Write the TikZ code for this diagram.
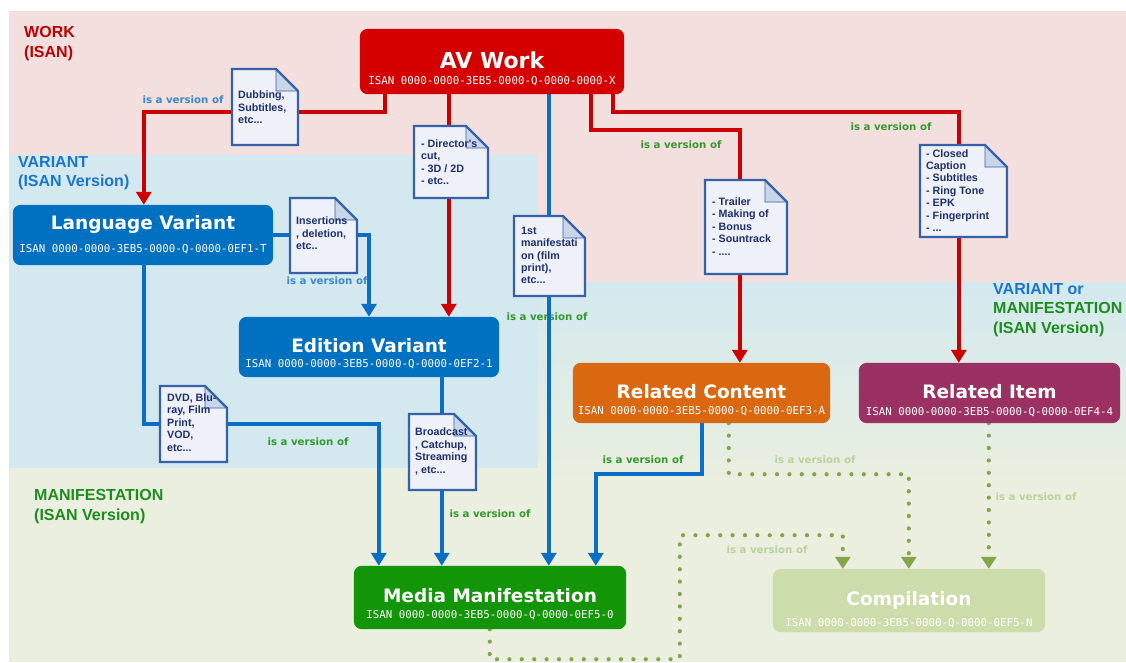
\documentclass[tikz,border=0pt]{standalone}
\usepackage{fontspec}
\usetikzlibrary{arrows.meta,calc}
\newfontfamily\dvs{DejaVu Sans}
\newfontfamily\lsans{Liberation Sans}
\newfontfamily\dvmono{DejaVu Sans Mono}
\definecolor{bgpink}{HTML}{F4DFDF}
\definecolor{bgblue}{HTML}{D3E9EF}
\definecolor{bggreen}{HTML}{EAEFDF}
\definecolor{cred}{HTML}{D40000}
\definecolor{cblue}{HTML}{0070C0}
\definecolor{corange}{HTML}{DA6810}
\definecolor{cpurple}{HTML}{9B3162}
\definecolor{cgreen}{HTML}{129608}
\definecolor{ccomp}{HTML}{CCDCAA}
\definecolor{lred}{HTML}{CC0000}
\definecolor{lblue}{HTML}{0A6EC4}
\definecolor{ldot}{HTML}{86A44A}
\definecolor{docborder}{HTML}{3461A8}
\definecolor{docfill}{HTML}{EEF1F8}
\definecolor{docfold}{HTML}{C9D5E8}
\definecolor{doctxt}{HTML}{1F2F6E}
\definecolor{lbltxtblue}{HTML}{3A88CC}
\definecolor{lbltxtgreen}{HTML}{33992C}
\definecolor{lbltxtlight}{HTML}{BCD29A}
\definecolor{regred}{HTML}{C00000}
\definecolor{regblue}{HTML}{1A76CC}
\definecolor{reggreen}{HTML}{1E8C1E}
\newcommand{\foldsz}{22}
\newcommand{\drawdoc}[5]{%
  \coordinate (#1-nw) at (#2,#3);
  \coordinate (#1-se) at (#4,#5);
  \fill[docfill] (#2,#3) -- ({#4-\foldsz},#3) -- (#4,{#3+\foldsz}) -- (#4,#5) -- (#2,#5) -- cycle;
  \filldraw[fill=docfold, draw=docborder, line width=0.8pt] ({#4-\foldsz},#3) -- ({#4-\foldsz},{#3+\foldsz}) -- (#4,{#3+\foldsz}) -- cycle;
  \draw[docline] (#2,#3) -- ({#4-\foldsz},#3) -- (#4,{#3+\foldsz}) -- (#4,#5) -- (#2,#5) -- cycle;
}
\begin{document}
\begin{tikzpicture}[x=1pt, y=-1pt,
  box/.style={rounded corners=8pt, inner sep=0pt},
  ttl/.style={font=\dvs\bfseries\fontsize{18.5}{20}\selectfont, text=white, inner sep=0pt, text height=13.5pt, text depth=0pt},
  bigttl/.style={font=\dvs\bfseries\fontsize{22}{24}\selectfont, text=white, inner sep=0pt, text height=16pt, text depth=0pt},
  isan/.style={font=\dvmono\fontsize{10.8}{12}\selectfont, text=white, inner sep=0pt, text height=7.9pt, text depth=0pt},
  docline/.style={draw=docborder, line width=2.4pt, line join=miter},
  doctext/.style={font=\lsans\bfseries\fontsize{10.7}{12.4}\selectfont, text=doctxt, align=left, inner sep=0pt, anchor=west},
  reglbl/.style={font=\lsans\bfseries\fontsize{16}{19.5}\selectfont, align=left, inner sep=0pt, anchor=west},
  lbl/.style={font=\dvs\bfseries\fontsize{10.2}{12}\selectfont, inner sep=0pt},
  redarr/.style={draw=lred, line width=3.5pt, -{Triangle[width=15pt,length=13pt]}},
  bluearr/.style={draw=lblue, line width=3.5pt, -{Triangle[width=15pt,length=13pt]}},
  dotarr/.style={draw=ldot, line width=4.2pt, line cap=round, dash pattern=on 0pt off 12.4pt, -{Triangle[width=15pt,length=12pt]}}
]
\useasboundingbox (0,0) rectangle (1126,662);
% backgrounds
\fill[white] (0,0) rectangle (1126,662);
\fill[bggreen] (9,11) rectangle (1126,662);
\fill[bgblue] (9,155) rectangle (538,468);
\shade[top color=bgblue, bottom color=bggreen] (538,282) rectangle (1126,482);
\fill[bgpink] (9,11) rectangle (1126,155);
\fill[bgpink] (538,155) rectangle (1126,282);

% region labels
\node[reglbl, text=regred] (rw) at (24,43.5) {WORK\\(ISAN)};
\node[reglbl, text=regblue] (rv) at (18,173) {VARIANT\\(ISAN Version)};
\node[reglbl, text=reggreen] (rm) at (34,506.5) {MANIFESTATION\\(ISAN Version)};
\node[reglbl] (rvm) at (993,310) {\textcolor{regblue}{VARIANT or}\\\textcolor{reggreen}{MANIFESTATION}\\\textcolor{reggreen}{(ISAN Version)}};

% boxes (named first, drawn later)
\path (492,61.5) node[box, minimum width=264pt, minimum height=65pt] (av) {};
\path (143,235) node[box, minimum width=260pt, minimum height=60pt] (lv) {};
\path (369,347) node[box, minimum width=260pt, minimum height=60pt] (ev) {};
\path (701.5,393) node[box, minimum width=257pt, minimum height=60pt] (rc) {};
\path (989.5,393) node[box, minimum width=261pt, minimum height=60pt] (ri) {};
\path (490,597.5) node[box, minimum width=272pt, minimum height=63pt] (mm) {};
\path (909,600.5) node[box, minimum width=272pt, minimum height=63pt] (comp) {};

% connector labels
\node[lbl, text=lbltxtblue] (l1) at (183,100) {is a version of};
\node[lbl, text=lbltxtblue] (l2) at (327,281) {is a version of};
\node[lbl, text=lbltxtgreen] (l3) at (681,145) {is a version of};
\node[lbl, text=lbltxtgreen] (l4) at (891,127) {is a version of};
\node[lbl, text=lbltxtgreen] (l5) at (547,317) {is a version of};
\node[lbl, text=lbltxtgreen] (l6) at (308,442) {is a version of};
\node[lbl, text=lbltxtgreen] (l7) at (490,514) {is a version of};
\node[lbl, text=lbltxtgreen] (l8) at (643,460) {is a version of};
\node[lbl, text=lbltxtlight] (l9) at (815,460) {is a version of};
\node[lbl, text=lbltxtlight] (l10) at (1036,497) {is a version of};
\node[lbl, text=lbltxtlight] (l11) at (767,550) {is a version of};

% connectors
\draw[dotarr] ([xshift=136pt]mm.south west) -- ++(0,30) -- ++(190,0) -- ++(0,-124) -| ([xshift=70pt]comp.north west);
\draw[dotarr] ([xshift=156pt]rc.south west) -- ++(0,51) -| ([xshift=136pt]comp.north west);
\draw[dotarr] ([xshift=130pt]ri.south west) -- ([xshift=216pt]comp.north west);

\draw[redarr] ([xshift=25pt]av.south west) -- ++(0,18) -| ([xshift=131pt]lv.north west);
\draw[redarr] ([xshift=89pt]av.south west) -- ([xshift=210pt]ev.north west);
\draw[redarr] ([xshift=231pt]av.south west) -- ++(0,36) -| ([xshift=167pt]rc.north west);
\draw[redarr] ([xshift=253pt]av.south west) -- ++(0,18) -| ([xshift=100pt]ri.north west);

\draw[bluearr] ([xshift=189pt]av.south west) -- ([xshift=195pt]mm.north west);
\draw[bluearr] (lv.east) -| (ev.north);
\draw[bluearr] ([xshift=131pt]lv.south west) -- ++(0,159) -| ([xshift=25pt]mm.north west);
\draw[bluearr] ([xshift=203pt]ev.south west) -- ([xshift=88pt]mm.north west);
\draw[bluearr] ([xshift=129pt]rc.south west) -- ++(0,51) -| ([xshift=242pt]mm.north west);

% documents
\drawdoc{dub}{232}{69}{298}{145}
\node[doctext] (t-dub) at (238,107.5) {Dubbing,\\Subtitles,\\etc...};
\drawdoc{dir}{414}{126}{488}{198}
\node[doctext] (t-dir) at (421,162) {- Director's\\cut,\\- 3D / 2D\\- etc..};
\drawdoc{ins}{290}{198}{357}{273}
\node[doctext] (t-ins) at (296,233.5) {Insertions\\, deletion,\\etc..};
\drawdoc{fst}{514}{216}{585}{296}
\node[doctext] (t-fst) at (521,255.5) {1st\\manifestati\\on (film\\print),\\etc...};
\drawdoc{trl}{705}{180}{787}{274}
\node[doctext] (t-trl) at (712,226.5) {- Trailer\\- Making of\\- Bonus\\- Sountrack\\- ....};
\drawdoc{cc}{920}{145}{1007}{237}
\node[doctext] (t-cc) at (926,190.5) {- Closed\\Caption\\- Subtitles\\- Ring Tone\\- EPK\\- Fingerprint\\- ...};
\drawdoc{dvd}{160}{386}{227}{462}
\node[doctext] (t-dvd) at (167,422.5) {DVD, Blu-\\ray, Film\\Print,\\VOD,\\etc...};
\drawdoc{bc}{409}{414}{476}{490}
\node[doctext] (t-bc) at (415,451.5) {Broadcast\\, Catchup,\\Streaming\\, etc...};

% boxes drawn
\fill[cred, rounded corners=8pt] (av.north west) rectangle (av.south east);
\fill[cblue, rounded corners=8pt] (lv.north west) rectangle (lv.south east);
\fill[cblue, rounded corners=8pt] (ev.north west) rectangle (ev.south east);
\fill[corange, rounded corners=8pt] (rc.north west) rectangle (rc.south east);
\fill[cpurple, rounded corners=8pt] (ri.north west) rectangle (ri.south east);
\fill[cgreen, rounded corners=8pt] (mm.north west) rectangle (mm.south east);
\fill[ccomp, rounded corners=8pt] (comp.north west) rectangle (comp.south east);

\node[bigttl] (av-t) at (492,60) {AV Work};
\node[isan] (av-i) at (492,81) {ISAN 0000-0000-3EB5-0000-Q-0000-0000-X};
\node[ttl] (lv-t) at (143,222.5) {Language Variant};
\node[isan] (lv-i) at (143,248.5) {ISAN 0000-0000-3EB5-0000-Q-0000-0EF1-T};
\node[ttl] (ev-t) at (369,346) {Edition Variant};
\node[isan] (ev-i) at (369,364) {ISAN 0000-0000-3EB5-0000-Q-0000-0EF2-1};
\node[ttl] (rc-t) at (701.5,392) {Related Content};
\node[isan] (rc-i) at (701.5,411) {ISAN 0000-0000-3EB5-0000-Q-0000-0EF3-A};
\node[ttl] (ri-t) at (989.5,392) {Related Item};
\node[isan] (ri-i) at (989.5,412) {ISAN 0000-0000-3EB5-0000-Q-0000-0EF4-4};
\node[ttl] (mm-t) at (490,596) {Media Manifestation};
\node[isan] (mm-i) at (490,615) {ISAN 0000-0000-3EB5-0000-Q-0000-0EF5-0};
\node[ttl] (comp-t) at (909,599) {Compilation};
\node[isan] (comp-i) at (909,622.5) {ISAN 0000-0000-3EB5-0000-Q-0000-0EF5-N};
\end{tikzpicture}
\end{document}
